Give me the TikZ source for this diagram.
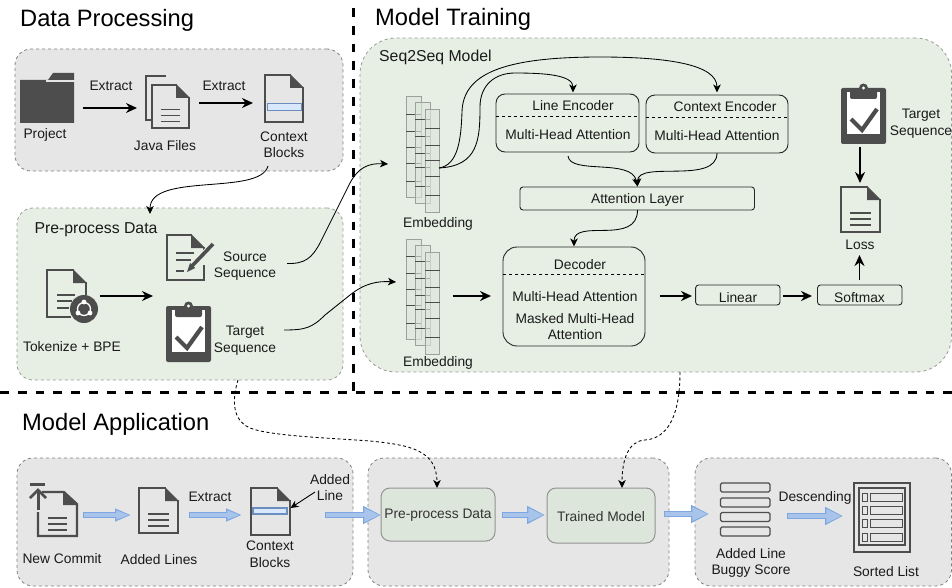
\documentclass[tikz,border=0pt]{standalone}
\usepackage{fontspec}
\setmainfont{Liberation Sans}
\usetikzlibrary{arrows.meta,calc}
\definecolor{icon}{HTML}{4D4D4D}
\definecolor{graybg}{HTML}{E6E6E6}
\definecolor{greenbg}{HTML}{E7EFE4}
\definecolor{greenin}{HTML}{DDE6DA}
\definecolor{blueO}{HTML}{7EA6E0}
\definecolor{blueI}{HTML}{A9C4EB}
\definecolor{hl}{HTML}{DAE8FC}
\definecolor{hlb}{HTML}{6C8EBF}
\definecolor{txt}{HTML}{1A1A1A}
\tikzset{
  lbl/.style={font=\fontsize{13.8}{15.5}\selectfont,text=txt,inner sep=0,align=center,yshift=-1.2pt},
  lblb/.style={lbl,font=\fontsize{15.8}{17}\selectfont},
  head/.style={font=\fontsize{23.7}{26}\selectfont,text=black,inner sep=0,anchor=west,yshift=-1.5pt},
  grayarea/.style={draw=gray,dashed,fill=graybg,line width=.8pt,rounded corners=16pt},
  greenarea/.style={draw=gray!80,dashed,fill=greenbg,line width=.8pt,rounded corners=#1},
  modbox/.style={draw=black!85,line width=.9pt,rounded corners=#1,inner sep=0,outer sep=0},
  appbox/.style={draw=gray!85,fill=greenin,line width=1pt,rounded corners=9pt,inner sep=0,outer sep=0,font=\fontsize{13.8}{15.5}\selectfont,text=black!80},
  flow/.style={line width=1.8pt,black,-{Stealth[length=11pt,width=10pt]}},
  curve/.style={line width=.85pt,black,-{Stealth[length=8pt,width=7.5pt,inset=2.2pt]}},
  dcurve/.style={line width=.85pt,black,dash pattern=on 3pt off 2.5pt,-{Stealth[length=8pt,width=7.5pt,inset=2.2pt]}},
  sep/.style={line width=3pt,black,dash pattern=on 8.8pt off 9pt},
  iconline/.style={icon,line width=2.1pt},
  hair/.style={black!70,line width=.5pt},
  col/.style={draw=gray!75,line width=1pt,fill=greenin,fill opacity=.65},
  slot/.style={draw=icon,line width=1.2pt,rounded corners=1.5pt},
}
% box node from corners
\newcommand{\areabox}[6]{\node[#1,minimum width={(#5-#3)*1pt},minimum height={(#6-#4)*1pt}] (#2) at ({(#3+#5)/2},{(#4+#6)/2}) {};}
\newcommand{\docfile}[5]{% x y w h  lines(0/1)
  \begin{scope}[shift={(#1,#2)}]
    \draw[iconline,line join=miter] ({#3-12},0) -- (0,0) -- (0,#4) -- (#3,#4) -- (#3,12);
    \fill[icon] ({#3-13},-1) -- ({#3+1},13) -- ({#3-13},13) -- cycle;
    \ifnum#5=1
      \foreach \yy in {0.57,0.71,0.85}{
        \draw[iconline,line width=1.8pt] ({#3*.24},{#4*\yy}) -- ({#3*.76},{#4*\yy});}
    \fi
  \end{scope}}
\newcommand{\clipb}[2]{%
  \begin{scope}[shift={(#1,#2)}]
    \fill[icon,rounded corners=2pt] (0,3) rectangle (45,59);
    \fill[white] (6,7) rectangle (39,49);
    \fill[icon,rounded corners=2pt] (9,5) rectangle (36,14);
    \fill[icon] (22.5,3) circle (4.5);
    \fill[white] (22.5,3) circle (1.6);
    \draw[icon,line width=4.2pt] (10,34) -- (21,45) -- (36,24);
  \end{scope}}
\newcommand{\embed}[1]{%
  \begin{scope}[shift={(0,#1)}]
    \filldraw[col] (406.4,0) rectangle (421,100);
    \foreach \yy in {17,34,50,66,84}{\draw[hair] (406.4,\yy) -- (421,\yy);}
    \filldraw[col] (415.3,6) rectangle (430,106);
    \foreach \yy in {22,39,56,70,89}{\draw[hair] (415.3,\yy) -- (430,\yy);}
    \filldraw[col] (425,13) rectangle (439.6,115);
    \foreach \yy in {31,48,63,79,98}{\draw[hair] (425,\yy) -- (439.6,\yy);}
  \end{scope}}
\newcommand{\barrow}[4]{%
  \draw[line width=6pt,blueO,-{Triangle[length=#3pt,width=#4pt]}] (#1) -- (#2);
  \draw[line width=3.4pt,blueI,shorten <=1.3pt,shorten >=1.6pt,-{Triangle[length=#3pt-3pt,width=#4pt-4pt]}] (#1) -- (#2);}
\begin{document}
\begin{tikzpicture}[x=1pt,y=-1pt]
\useasboundingbox (0,0) rectangle (952,588);
% areas
\areabox{grayarea}{dp}{15}{49}{343}{171}
\areabox{greenarea=16pt}{pp}{17}{208}{343}{380}
\areabox{greenarea=36pt}{s2s}{360}{38}{951.5}{372}
\areabox{grayarea}{ma}{17}{458}{353}{586}
\areabox{grayarea}{mb}{368}{458}{669}{586}
\areabox{grayarea}{mc}{695}{458}{951.5}{586}
% separators
\coordinate (vt) at (353,8); \coordinate (vb) at (353,392.7);
\coordinate (hl) at (0,392.7); \coordinate (hr) at (952,392.7);
\draw[sep] (vt) -- (vb);
\draw[sep] (hl) -- (hr);
% headings
\node[head] (h1) at (20,19) {Data Processing};
\node[head] (h2) at (375,18) {Model Training};
\node[head] (h3) at (22,423) {Model Application};
% --- Data processing
\fill[icon] (20,80) -- (48,80) -- (53,73) -- (74,73) -- (74,123) -- (20,123) -- cycle;
\draw[graybg,line width=1.2pt] (46,81) -- (76,81);
\docfile{152}{85}{37}{43}{1}
\draw[iconline] (166,76) -- (146,76) -- (146,120) -- (151,120);
\docfile{265}{75}{38}{47}{0}
\filldraw[fill=hl,draw=hlb,line width=1pt] (267,104) rectangle (301,111);
\node[lbl] (t1) at (111,85) {Extract};
\node[lbl] (t2) at (224,85) {Extract};
\node[lbl] (t3) at (45,134) {Project};
\node[lbl] (t4) at (165,144) {Java Files};
\node[lbl] (t5) at (284,144) {Context\\[0.6pt]Blocks};
\coordinate (a1) at (83,108); \coordinate (a2) at (137,108);
\coordinate (a3) at (199,103); \coordinate (a4) at (253,103);
\draw[flow] (a1) -- (a2);
\draw[flow] (a3) -- (a4);
\coordinate (c1) at (268,166); \coordinate (c2) at (150,214);
\draw[curve] (c1) .. controls (260,196) and (150,172) .. (c2);
% --- Pre-process
\node[lblb] (t6) at (96,229) {Pre-process Data};
% source doc
\begin{scope}[shift={(167,235)}]
  \draw[iconline,line join=miter] (25,0) -- (0,0) -- (0,45) -- (37,45) -- (37,30);
  \draw[iconline] (37,12) -- (37,16);
  \fill[icon] (24,-1) -- (38,13) -- (24,13) -- cycle;
  \draw[iconline,line width=1.8pt] (9,18) -- (27,18);
  \draw[iconline,line width=1.8pt] (9,25) -- (24,25);
  \draw[iconline,line width=1.8pt] (9,36) -- (17,36);
\end{scope}
\draw[greenbg,line width=6pt] (189,270) -- (214,243);
\draw[icon,line width=3.6pt] (192,266) -- (213,244);
\fill[icon] (187,272) -- (190,263) -- (195,268) -- cycle;
% tokenize doc
\begin{scope}[shift={(47,270)}]
  \draw[iconline,line join=miter] (27,0) -- (0,0) -- (0,47) -- (24,47);
  \draw[iconline] (39,12) -- (39,25);
  \fill[icon] (26,-1) -- (40,13) -- (26,13) -- cycle;
  \draw[iconline,line width=1.8pt] (10,25) -- (28,25);
  \draw[iconline,line width=1.8pt] (10,31) -- (25,31);
  \draw[iconline,line width=1.8pt] (10,38) -- (22,38);
\end{scope}
\fill[icon] (84,309) circle (14);
\draw[white,line width=1.3pt] (84,309) circle (6.5);
\fill[white] (84,302) circle (2.4) (78,313) circle (2.4) (90,313) circle (2.4);
\clipb{166}{303}
\node[lbl] (t7) at (72,345) {Tokenize + BPE};
\node[lbl] (t8) at (245,264.5) {Source\\[0.6pt]Sequence};
\node[lbl] (t9) at (245,339.5) {Target\\[0.6pt]Sequence};
\coordinate (a5) at (100,296); \coordinate (a6) at (153,296);
\draw[flow] (a5) -- (a6);
\coordinate (s1) at (287,263.5); \coordinate (s2) at (388,164);
\coordinate (s3) at (284,330); \coordinate (s4) at (396,282);
\draw[curve] (s1) .. controls (305,264) and (312,258) .. (320,243) -- (350,183) .. controls (358,168) and (368,163) .. (s2);
\draw[curve] (s3) .. controls (305,330) and (312,328) .. (325,315) -- (350,295) .. controls (365,283) and (378,281) .. (s4);
% --- Model
\node[lblb,anchor=west] (t10) at (379,56) {Seq2Seq Model};
\embed{97}
\embed{239}
\node[lbl] (t11) at (438,223) {Embedding};
\node[lbl] (t12) at (438,362) {Embedding};
\areabox{modbox=9pt}{le}{496}{94}{639}{152}
\areabox{modbox=9pt}{ce}{646}{95}{788}{153}
\areabox{modbox=3pt}{al}{520}{187}{754.5}{210}
\areabox{modbox=14pt}{de}{503}{247}{645}{346}
\areabox{modbox=3pt}{li}{695.6}{285}{780}{305}
\areabox{modbox=3pt}{so}{817.5}{285}{902}{305}
\draw[black,dashed,line width=.7pt] (le.west |- 0,116) -- (le.east |- 0,116);
\draw[black,dashed,line width=.7pt] (ce.west |- 0,117) -- (ce.east |- 0,117);
\draw[black,dashed,line width=.7pt] (de.west |- 0,274) -- (de.east |- 0,274);
\node[lbl] (t13) at (573,104) {Line Encoder};
\node[lbl] (t14) at (568,133) {Multi-Head Attention};
\node[lbl] (t15) at (725,105) {Context Encoder};
\node[lbl] (t16) at (717,134) {Multi-Head Attention};
\node[lbl] (t17) at (637.5,199) {Attention Layer};
\node[lbl] (t18) at (580,263) {Decoder};
\node[lbl] (t19) at (575,295) {Multi-Head Attention};
\node[lbl] (t20) at (575,325) {Masked Multi-Head\\[0.6pt]Attention};
\node[lbl] (t21) at (738,296) {Linear};
\node[lbl] (t22) at (859.5,296) {Softmax};
\clipb{841}{85}
\docfile{841}{187}{39}{45}{1}
\node[lbl] (t23) at (921,122.5) {Target\\[0.6pt]Sequence};
\node[lbl] (t24) at (860,244) {Loss};
\coordinate (e1) at (439,168);
\coordinate (l1) at (573,92.5);
\coordinate (l2) at (717,92.5);
\draw[curve] (e1) .. controls (478,166) and (480,140) .. (480,107) .. controls (480,85) and (495,73) .. (515,73) .. controls (545,73) and (573,75) .. (l1);
\draw[curve] (e1) .. controls (458,165) and (461,140) .. (462,112) .. controls (463,75) and (500,57) .. (600,57) .. controls (670,57) and (717,65) .. (l2);
\coordinate (q1) at (568,156); \coordinate (q2) at (637.5,186.5);
\coordinate (q3) at (717,153);
\draw[curve] (q1) .. controls (570,175) and (632,158) .. (q2);
\draw[curve] (q3) .. controls (717,185) and (637.5,160) .. (q2);
\coordinate (q4) at (637.5,210); \coordinate (q5) at (574,246.5);
\draw[curve] (q4) .. controls (637.5,246) and (574,218) .. (q5);
\coordinate (f1) at (452.5,296); \coordinate (f2) at (491,296);
\coordinate (f3) at (660,296); \coordinate (f4) at (692,296);
\coordinate (f5) at (783,296); \coordinate (f6) at (812,296);
\coordinate (f7) at (859.5,280); \coordinate (f8) at (859.5,255);
\coordinate (f9) at (860,147); \coordinate (f10) at (860,183);
\draw[flow] (f1) -- (f2);
\draw[flow] (f3) -- (f4);
\draw[flow] (f5) -- (f6);
\draw[flow] (f7) -- (f8);
\draw[flow] (f9) -- (f10);
% --- Application
\areabox{appbox}{ap}{381}{488}{495}{541}
\node[appbox,draw=none,fill=none,yshift=-1pt] (apt) at (ap) {Pre-process Data};
\areabox{appbox}{tm}{547}{488}{655}{543}
\node[appbox,draw=none,fill=none,yshift=-1pt] (tmt) at (tm) {Trained Model};
\coordinate (d1) at (238,380); \coordinate (d2) at (437,488);
\draw[dcurve] (d1) .. controls (232,400) and (232,420) .. (250,428) .. controls (270,436) and (330,438) .. (370,441) .. controls (410,445) and (437,450) .. (d2);
\coordinate (d3) at (680,372); \coordinate (d4) at (622,488);
\draw[dcurve] (d3) .. controls (680,400) and (675,438) .. (645,440) .. controls (628,441) and (622,460) .. (d4);
% new commit
\begin{scope}[shift={(38,492)}]
  \draw[iconline,line join=miter] (4,0) -- (26,0) -- (39,12) -- (39,44) -- (0,44) -- (0,20);
  \fill[icon] (25,-1) -- (40,13) -- (25,13) -- cycle;
  \foreach \yy in {26,32,38}{\draw[iconline,line width=1.8pt] (10,\yy) -- (29,\yy);}
\end{scope}
\fill[icon] (30,482.5) rectangle (45,485.5);
\draw[icon,line width=3pt] (38,510) -- (38,490);
\draw[icon,line width=2.8pt] (30,498) -- (38,490) -- (46,498);
\docfile{139}{488}{39}{45}{1}
\docfile{251}{488}{39}{47}{0}
\filldraw[fill=hl,draw=hlb,line width=1.2pt] (253,508) rectangle (287,514);
\node[lbl] (t25) at (62,557) {New Commit};
\node[lbl] (t26) at (159,558) {Added Lines};
\node[lbl] (t27) at (210,496) {Extract};
\node[lbl] (t28) at (270,553) {Context\\[0.6pt]Blocks};
\node[lbl] (t29) at (330,486) {Added\\[0.6pt]Line};
\coordinate (g1) at (315,492); \coordinate (g2) at (290.5,508);
\draw[line width=.9pt,black,-{Stealth[length=8pt,width=7.5pt]}] (g1) -- (g2);
\coordinate (b1) at (83,515); \coordinate (b2) at (131,515);
\coordinate (b3) at (189,515); \coordinate (b4) at (242,515);
\coordinate (b5) at (325,515); \coordinate (b6) at (381,515);
\coordinate (b7) at (502,515); \coordinate (b8) at (545,515);
\coordinate (b9) at (664,514); \coordinate (b10) at (709,514);
\coordinate (b11) at (787,516); \coordinate (b12) at (843,516);
\barrow{b1}{b2}{16}{12}
\barrow{b3}{b4}{16}{12}
\barrow{b5}{b6}{18}{17}
\barrow{b7}{b8}{18}{17}
\barrow{b9}{b10}{18}{17}
\barrow{b11}{b12}{18}{17}
% scores
\foreach \yy in {483,498,512.5,527}{\draw[slot] (720.5,\yy) rectangle (770,\yy+9);}
\node[lbl] (t30) at (751,562) {Added Line\\[0.6pt]Buggy Score};
\node[lbl] (t31) at (815,497) {Descending};
\node[lbl] (t32) at (886,570) {Sorted List};
% sorted list
\draw[icon,line width=1.1pt] (854,483) rectangle (910,552);
\draw[icon,line width=1.1pt] (859,488) rectangle (905,545);
\foreach \yy in {493,506,519,533}{
  \draw[icon,line width=.9pt] (862,\yy) rectangle (867,\yy+8);
  \draw[icon,line width=.9pt] (870,\yy) rectangle (902,\yy+8);}
\end{tikzpicture}
\end{document}
